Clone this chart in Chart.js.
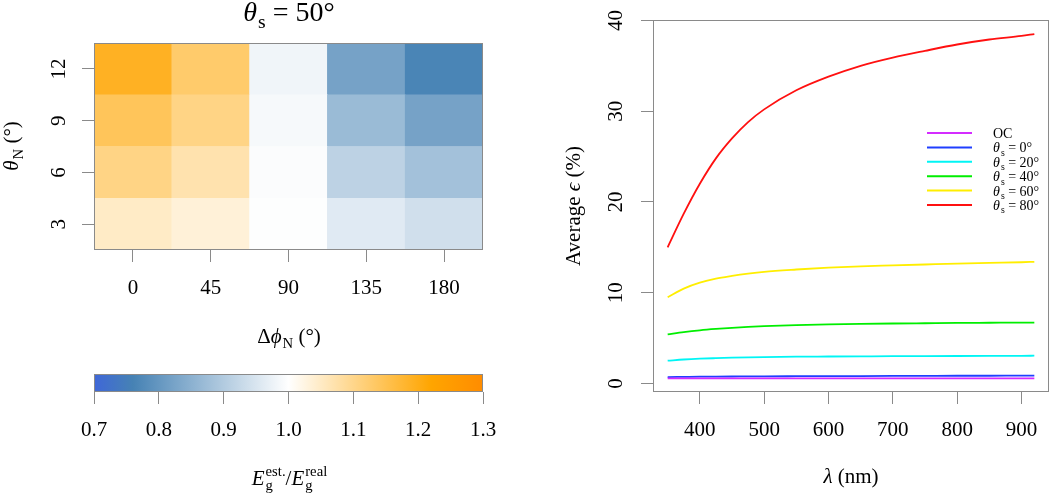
<!DOCTYPE html>
<html><head><meta charset="utf-8">
<script src="https://cdn.jsdelivr.net/npm/chart.js@4.4.1/dist/chart.umd.min.js"></script>
<style>
html,body{margin:0;padding:0;background:#fff;width:1050px;height:493px;overflow:hidden}
canvas{position:absolute}
</style></head><body>
<canvas id="heat" width="500" height="360" style="left:0;top:0"></canvas>
<canvas id="cbar" width="500" height="138" style="left:0;top:355px"></canvas>
<canvas id="line" width="510" height="493" style="left:540px;top:0"></canvas>
<script>
// ---------- data ----------
const dphi = ['0', '45', '90', '135', '180'];
const thetaN = ['3', '6', '9', '12'];
const ratio3  = [1.049, 1.034, 0.998, 0.960, 0.939];
const ratio6  = [1.105, 1.070, 0.995, 0.914, 0.881];
const ratio9  = [1.142, 1.105, 0.988, 0.869, 0.822];
const ratio12 = [1.190, 1.128, 0.980, 0.822, 0.765];
const cbTicks = [0.7, 0.8, 0.9, 1.0, 1.1, 1.2, 1.3];

const wavelength = [350, 375, 400, 425, 450, 475, 500, 550, 600, 650, 700, 750, 800, 850, 900, 920];
const oc    = [0.56, 0.56, 0.55, 0.55, 0.55, 0.55, 0.55, 0.55, 0.55, 0.55, 0.55, 0.55, 0.55, 0.55, 0.55, 0.55];
const ts0   = [0.70, 0.72, 0.74, 0.75, 0.76, 0.77, 0.78, 0.79, 0.80, 0.81, 0.82, 0.83, 0.84, 0.84, 0.85, 0.85];
const ts20  = [2.50, 2.63, 2.72, 2.78, 2.83, 2.87, 2.90, 2.94, 2.96, 2.98, 3.00, 3.01, 3.02, 3.03, 3.04, 3.05];
const ts40  = [5.40, 5.65, 5.85, 6.00, 6.12, 6.22, 6.30, 6.42, 6.50, 6.56, 6.60, 6.63, 6.66, 6.68, 6.70, 6.70];
const ts60  = [9.50, 10.45, 11.1, 11.55, 11.85, 12.1, 12.3, 12.55, 12.75, 12.9, 13.0, 13.1, 13.2, 13.28, 13.35, 13.4];
const ts80  = [15.0, 18.7, 22.0, 24.8, 27.0, 28.8, 30.2, 32.3, 33.8, 35.0, 35.9, 36.65, 37.35, 37.9, 38.3, 38.5];
const seriesLabels = ['OC', 'θ_s = 0°', 'θ_s = 20°', 'θ_s = 40°', 'θ_s = 60°', 'θ_s = 80°'];
const lambdaTicks = [400, 500, 600, 700, 800, 900];
const epsTicks = [0, 10, 20, 30, 40];

// ---------- styles ----------
const seriesColors = ['#d42cff', '#1f3fff', '#00f5f5', '#00ee00', '#ffee00', '#ff1010'];
const cbStops  = [0.7, 0.76, 1.0, 1.22, 1.3];
const cbColors = ['#3f67d8', '#4682b4', '#ffffff', '#ffa500', '#ff8c00'];
const FONT = '"Liberation Serif", "DejaVu Serif", serif';
const GRAY = '#8a8a8a';
Chart.defaults.font.family = FONT;
Chart.defaults.color = '#000';
Chart.defaults.animation = false;

function hexToRgb(h){ return [parseInt(h.slice(1,3),16), parseInt(h.slice(3,5),16), parseInt(h.slice(5,7),16)]; }
function rampColor(v){
  const lo = cbStops[0], hi = cbStops[cbStops.length-1];
  v = Math.max(lo, Math.min(hi, v));
  for (let i = 0; i < cbStops.length-1; i++){
    if (v <= cbStops[i+1]){
      const t = (v - cbStops[i]) / (cbStops[i+1] - cbStops[i]);
      const a = hexToRgb(cbColors[i]), b = hexToRgb(cbColors[i+1]);
      const c = a.map((x, k) => Math.round(x + (b[k]-x)*t));
      return `rgb(${c[0]},${c[1]},${c[2]})`;
    }
  }
  return cbColors[cbColors.length-1];
}

function fontStr(it, size){ return (it ? 'italic ' : '') + size + 'px ' + FONT; }
function measureRich(ctx, parts, size){
  let w = 0;
  for (const p of parts){
    if (p.t){ ctx.font = fontStr(p.i, size); w += ctx.measureText(p.t).width; }
    ctx.font = fontStr(false, size*0.7);
    let a = 0;
    if (p.sub) a = Math.max(a, ctx.measureText(p.sub).width);
    if (p.sup) a = Math.max(a, ctx.measureText(p.sup).width);
    w += a;
  }
  return w;
}
function drawRich(ctx, parts, x, y, size, rot, align){
  ctx.save();
  ctx.translate(x, y);
  if (rot) ctx.rotate(rot);
  ctx.fillStyle = '#000'; ctx.textBaseline = 'alphabetic'; ctx.textAlign = 'left';
  const w = measureRich(ctx, parts, size);
  let cx = align === 'left' ? 0 : -w/2;
  for (const p of parts){
    if (p.t){ ctx.font = fontStr(p.i, size); ctx.fillText(p.t, cx, 0); cx += ctx.measureText(p.t).width; }
    ctx.font = fontStr(false, size*0.7);
    let adv = 0;
    if (p.sub){ ctx.fillText(p.sub, cx + 1, size*0.24); adv = Math.max(adv, ctx.measureText(p.sub).width + 1); }
    if (p.sup){ ctx.fillText(p.sup, cx + 1, -size*0.42); adv = Math.max(adv, ctx.measureText(p.sup).width + 1); }
    cx += adv;
  }
  ctx.restore();
}
function parseLabel(s){
  const m = s.match(/^(.)_(\w)(.*)$/);
  if (!m) return [{t: s}];
  return [{t: m[1], i: true, sub: m[2]}, {t: m[3]}];
}

const boxPlugin = {
  id: 'box',
  afterDraw(chart){
    const {ctx, chartArea: a} = chart;
    ctx.save(); ctx.strokeStyle = GRAY; ctx.lineWidth = 1;
    ctx.strokeRect(Math.round(a.left)+0.5, Math.round(a.top)+0.5, Math.round(a.right-a.left)-1, Math.round(a.bottom-a.top)-1);
    ctx.restore();
  }
};

function tickAxis(extra){
  return Object.assign({
    border: {display: false},
    grid: {drawOnChartArea: false, drawTicks: true, tickLength: 12, color: GRAY, lineWidth: 1, offset: false},
  }, extra);
}
function fitX(h){ return function(s){ s.height = h; s.paddingLeft = 0; s.paddingRight = 0; }; }
function fitY(w){ return function(s){ s.width = w; s.paddingTop = 0; s.paddingBottom = 0; }; }

// ---------- heatmap ----------
const rows = [ratio3, ratio6, ratio9, ratio12];
new Chart(document.getElementById('heat'), {
  type: 'bar',
  data: {
    labels: dphi,
    datasets: thetaN.map((t, i) => ({
      label: t,
      data: dphi.map(() => 1),
      backgroundColor: rows[i].map(rampColor),
      borderWidth: 0,
      barPercentage: 1.0,
      categoryPercentage: 1.0
    }))
  },
  options: {
    responsive: false,
    devicePixelRatio: 1,
    layout: {padding: {left: 0, right: 17, top: 43, bottom: 0}},
    plugins: {legend: {display: false}, tooltip: {enabled: false}},
    scales: {
      x: tickAxis({
        stacked: true,
        ticks: {font: {size: 21}, padding: 14, color: '#000'},
        afterFit: fitX(110)
      }),
      y: tickAxis({
        stacked: true, min: 0, max: 4,
        afterBuildTicks(s){ s.ticks = thetaN.map((t, i) => ({value: i + 0.5})); },
        ticks: {font: {size: 21}, padding: 12, minRotation: 90, maxRotation: 90, crossAlign: 'center', color: '#000',
                callback: v => thetaN[Math.floor(v)]},
        afterFit: fitY(94)
      })
    }
  },
  plugins: [boxPlugin, {
    id: 'heatTitles',
    afterDraw(chart){
      const {ctx, chartArea: a} = chart;
      const cx = (a.left + a.right)/2;
      drawRich(ctx, [{t:'θ', i:true, sub:'s'}, {t:' = 50°'}], cx, a.top - 22, 28);
      drawRich(ctx, [{t:'Δ'}, {t:'ϕ', i:true, sub:'N'}, {t:' (°)'}], cx, a.bottom + 93, 21);
      drawRich(ctx, [{t:'θ', i:true, sub:'N'}, {t:' (°)'}], a.left - 76, (a.top + a.bottom)/2, 21, -Math.PI/2);
    }
  }]
});

// ---------- colour bar ----------
new Chart(document.getElementById('cbar'), {
  type: 'bar',
  data: {
    labels: ['ratio'],
    datasets: [{
      data: [[cbTicks[0], cbTicks[cbTicks.length-1]]],
      backgroundColor(c){
        const {chart} = c; const a = chart.chartArea;
        if (!a) return '#ccc';
        const x = chart.scales.x;
        const g = chart.ctx.createLinearGradient(x.getPixelForValue(cbStops[0]), 0, x.getPixelForValue(cbStops[cbStops.length-1]), 0);
        const span = cbStops[cbStops.length-1] - cbStops[0];
        cbStops.forEach((s, i) => g.addColorStop((s - cbStops[0]) / span, cbColors[i]));
        return g;
      },
      borderWidth: 0, barPercentage: 1.0, categoryPercentage: 1.0
    }]
  },
  options: {
    responsive: false,
    devicePixelRatio: 1,
    indexAxis: 'y',
    layout: {padding: {left: 94, right: 17, top: 19, bottom: 0}},
    plugins: {legend: {display: false}, tooltip: {enabled: false}},
    scales: {
      x: tickAxis({
        type: 'linear', min: cbTicks[0], max: cbTicks[cbTicks.length-1],
        afterBuildTicks(s){ s.ticks = cbTicks.map(v => ({value: v})); },
        ticks: {font: {size: 21}, padding: 14, color: '#000', callback: v => v.toFixed(1)},
        afterFit: fitX(101)
      }),
      y: {display: false}
    }
  },
  plugins: [boxPlugin, {
    id: 'cbTitle',
    afterDraw(chart){
      const {ctx, chartArea: a} = chart;
      drawRich(ctx, [{t:'E', i:true, sub:'g', sup:'est.'}, {t:'/'}, {t:'E', i:true, sub:'g', sup:'real'}],
               (a.left + a.right)/2, a.bottom + 93, 21);
    }
  }]
});

// ---------- line chart ----------
const seriesData = [oc, ts0, ts20, ts40, ts60, ts80];
new Chart(document.getElementById('line'), {
  type: 'line',
  data: {
    datasets: seriesData.map((arr, k) => ({
      label: seriesLabels[k],
      data: wavelength.map((w, i) => ({x: w, y: arr[i]})),
      borderColor: seriesColors[k],
      borderWidth: 1.8,
      pointRadius: 0,
      cubicInterpolationMode: 'monotone',
      fill: false
    }))
  },
  options: {
    responsive: false,
    devicePixelRatio: 1,
    layout: {padding: {left: 0, right: 1, top: 20, bottom: 0}},
    plugins: {legend: {display: false}, tooltip: {enabled: false}},
    scales: {
      x: tickAxis({
        type: 'linear', min: 327.2, max: 942.8,
        afterBuildTicks(s){ s.ticks = lambdaTicks.map(v => ({value: v})); },
        ticks: {font: {size: 21}, padding: 14, color: '#000', callback: v => String(v)},
        afterFit: fitX(101)
      }),
      y: tickAxis({
        type: 'linear', min: -0.95, max: 40.05,
        afterBuildTicks(s){ s.ticks = epsTicks.map(v => ({value: v})); },
        ticks: {font: {size: 21}, padding: 14, minRotation: 90, maxRotation: 90, crossAlign: 'center', color: '#000',
                callback: v => String(v)},
        afterFit: fitY(113)
      })
    }
  },
  plugins: [boxPlugin, {
    id: 'lineTitles',
    afterDraw(chart){
      const {ctx, chartArea: a} = chart;
      drawRich(ctx, [{t:'λ', i:true}, {t:' (nm)'}], (a.left + a.right)/2, a.bottom + 91, 21);
      drawRich(ctx, [{t:'Average '}, {t:'ϵ', i:true}, {t:' (%)'}], a.left - 73, (a.top + a.bottom)/2, 21, -Math.PI/2);
      const ds = chart.data.datasets;
      ds.forEach((d, k) => {
        const y = a.top + 113 + k*14.4;
        ctx.save();
        ctx.strokeStyle = d.borderColor; ctx.lineWidth = 2;
        ctx.beginPath(); ctx.moveTo(a.right - 122, y); ctx.lineTo(a.right - 77, y); ctx.stroke();
        ctx.restore();
        drawRich(ctx, parseLabel(d.label), a.right - 56, y + 5, 14, 0, 'left');
      });
    }
  }]
});
</script>
</body></html>
